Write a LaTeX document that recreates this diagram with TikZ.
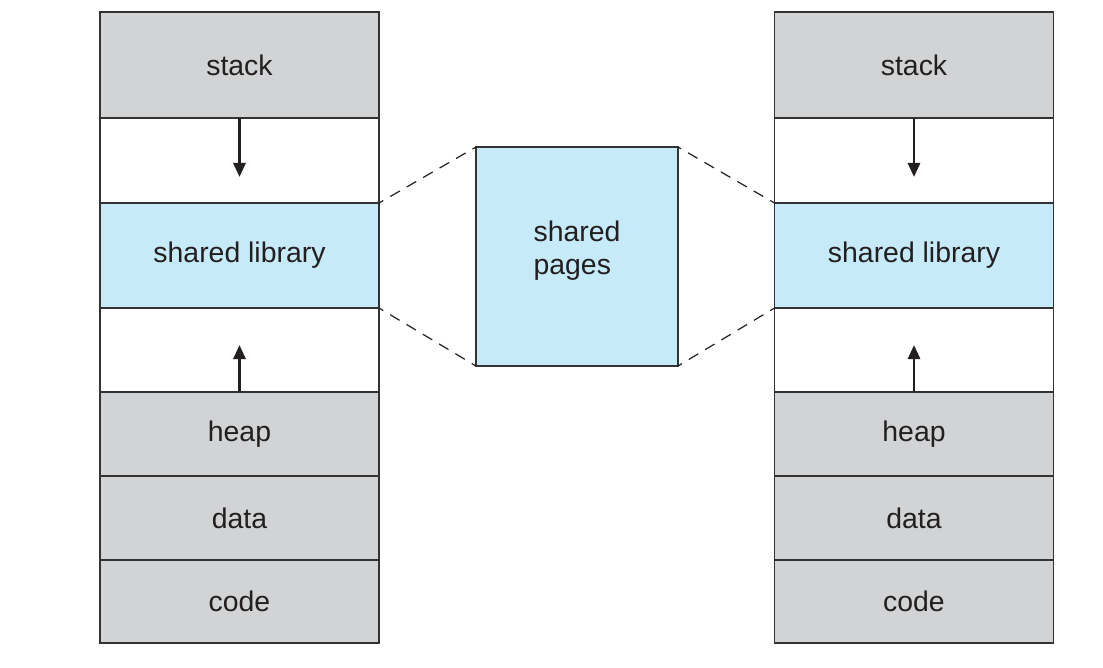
\documentclass[tikz,border=0pt]{standalone}
\usepackage{fontspec}
\setmainfont{Liberation Sans}
\usetikzlibrary{arrows.meta}

\definecolor{segGray}{HTML}{D1D3D4}
\definecolor{libBlue}{HTML}{C7EAF8}
\definecolor{edgeGray}{HTML}{333333}
\definecolor{inkDark}{HTML}{231F20}

\tikzset{
  seg/.style={draw=edgeGray, line width=0.75pt, inner sep=0pt, outer sep=0pt,
    minimum width=139.5pt, text=inkDark, font=\fontsize{14.2}{16.5}\selectfont},
  grayseg/.style={seg, fill=segGray},
  blueseg/.style={seg, fill=libBlue},
  gapseg/.style={seg, fill=white},
  growarrow/.style={-{Triangle[length=7pt,width=6pt]}, line width=1.4pt, draw=inkDark},
  mapline/.style={draw=inkDark, line width=0.6pt, dash pattern=on 5.5pt off 4pt, dash phase=3pt}
}

\begin{document}
\begin{tikzpicture}[x=0.5pt,y=-0.5pt]
  \useasboundingbox (0,0) rectangle (1103,668);
  % left process
  \node[grayseg, minimum height=53pt]   (lstack) at (239.5,65)    {stack};
  \node[gapseg,  minimum height=42.5pt] (lgapA)  at (239.5,160.5) {};
  \node[blueseg, minimum height=52.5pt] (llib)   at (239.5,255.5) {shared library};
  \node[gapseg,  minimum height=42pt]   (lgapB)  at (239.5,350)   {};
  \node[grayseg, minimum height=42pt]   (lheap)  at (239.5,434)   {heap};
  \node[grayseg, minimum height=42pt]   (ldata)  at (239.5,518)   {data};
  \node[grayseg, minimum height=41.5pt] (lcode)  at (239.5,601.5) {code};
  % right process
  \node[grayseg, minimum height=53pt]   (rstack) at (914,65)    {stack};
  \node[gapseg,  minimum height=42.5pt] (rgapA)  at (914,160.5) {};
  \node[blueseg, minimum height=52.5pt] (rlib)   at (914,255.5) {shared library};
  \node[gapseg,  minimum height=42pt]   (rgapB)  at (914,350)   {};
  \node[grayseg, minimum height=42pt]   (rheap)  at (914,434)   {heap};
  \node[grayseg, minimum height=42pt]   (rdata)  at (914,518)   {data};
  \node[grayseg, minimum height=41.5pt] (rcode)  at (914,601.5) {code};
  % physical pages
  \node[blueseg, minimum width=101pt, minimum height=109.5pt, align=left,
        text depth=9pt] (pages) at (577,256.5) {shared\\pages};
  % growth arrows
  \draw[growarrow] (lgapA.north) -- ++(0,59);
  \draw[growarrow] (lgapB.south) -- ++(0,-47);
  \draw[growarrow] (rgapA.north) -- ++(0,59);
  \draw[growarrow] (rgapB.south) -- ++(0,-47);
  % mapping
  \draw[mapline] (llib.north east) -- (pages.north west);
  \draw[mapline] (llib.south east) -- (pages.south west);
  \draw[mapline] (rlib.north west) -- (pages.north east);
  \draw[mapline] (rlib.south west) -- (pages.south east);
\end{tikzpicture}
\end{document}
